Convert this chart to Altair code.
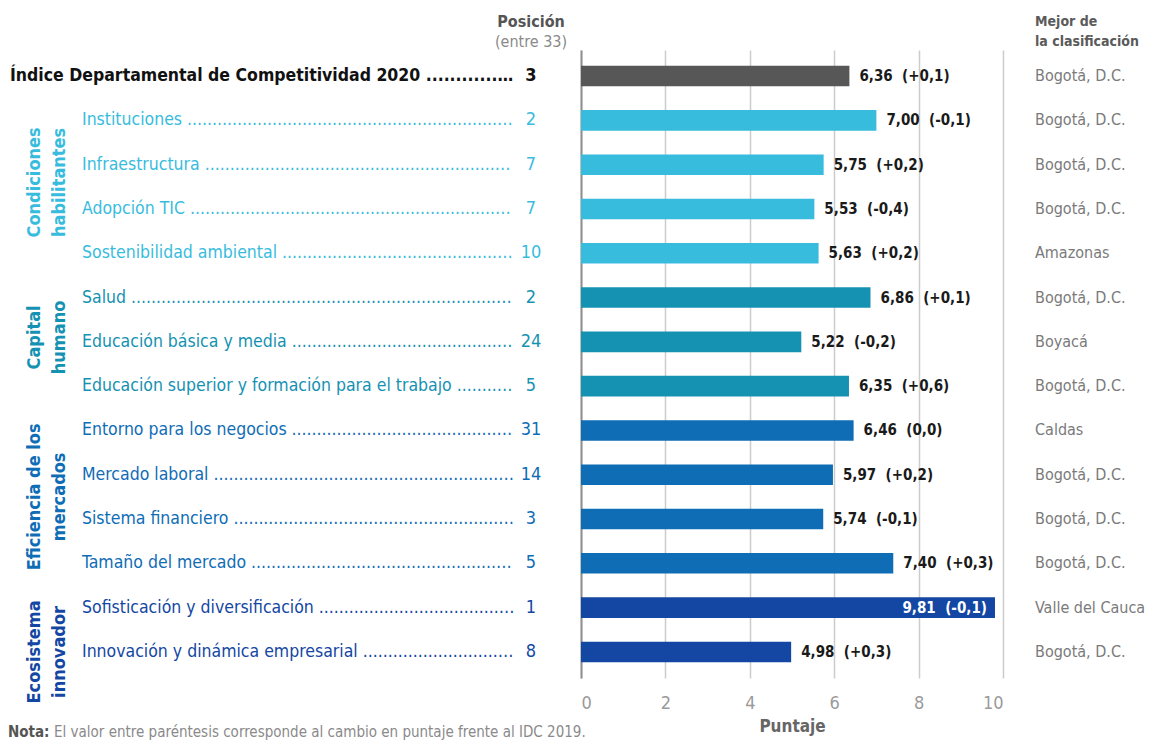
import altair as alt
import pandas as pd

FONT = "Liberation Sans Narrow, DejaVu Sans Condensed, sans-serif"

labels = [
    "Índice Departamental de Competitividad 2020",
    "Instituciones",
    "Infraestructura",
    "Adopción TIC",
    "Sostenibilidad ambiental",
    "Salud",
    "Educación básica y media",
    "Educación superior y formación para el trabajo",
    "Entorno para los negocios",
    "Mercado laboral",
    "Sistema financiero",
    "Tamaño del mercado",
    "Sofisticación y diversificación",
    "Innovación y dinámica empresarial",
]
groups = [
    "IDC",
    "Condiciones habilitantes", "Condiciones habilitantes", "Condiciones habilitantes", "Condiciones habilitantes",
    "Capital humano", "Capital humano", "Capital humano",
    "Eficiencia de los mercados", "Eficiencia de los mercados", "Eficiencia de los mercados", "Eficiencia de los mercados",
    "Ecosistema innovador", "Ecosistema innovador",
]
positions = [3, 2, 7, 7, 10, 2, 24, 5, 31, 14, 3, 5, 1, 8]
scores = [6.36, 7.00, 5.75, 5.53, 5.63, 6.86, 5.22, 6.35, 6.46, 5.97, 5.74, 7.40, 9.81, 4.98]
changes = [0.1, -0.1, 0.2, -0.4, 0.2, 0.1, -0.2, 0.6, 0.0, 0.2, -0.1, 0.3, -0.1, 0.3]
best = [
    "Bogotá, D.C.", "Bogotá, D.C.", "Bogotá, D.C.", "Bogotá, D.C.", "Amazonas",
    "Bogotá, D.C.", "Boyacá", "Bogotá, D.C.", "Caldas", "Bogotá, D.C.",
    "Bogotá, D.C.", "Bogotá, D.C.", "Valle del Cauca", "Bogotá, D.C.",
]

group_order = ["IDC", "Condiciones habilitantes", "Capital humano",
               "Eficiencia de los mercados", "Ecosistema innovador"]
group_colors = ["#575757", "#38BCDE", "#1592B2", "#0F6DB6", "#1347A3"]

group_titles = ["Condiciones habilitantes", "Capital humano",
                "Eficiencia de los mercados", "Ecosistema innovador"]
group_lines = [["Condiciones", "habilitantes"], ["Capital", "humano"],
               ["Eficiencia de los", "mercados"], ["Ecosistema", "innovador"]]
group_center_row = [2.4, 5.9, 9.5, 13.0]


def fmt_num(v):
    return f"{v:.2f}".replace(".", ",")


def fmt_change(c):
    if abs(c) < 1e-9:
        return "0,0"
    s = f"{abs(c):.1f}".replace(".", ",")
    return ("+" if c > 0 else "-") + s


df = pd.DataFrame({
    "label": labels,
    "grupo": groups,
    "pos": [str(p) for p in positions],
    "score": scores,
    "vlabel": [f"{fmt_num(s)}\u00a0\u00a0({fmt_change(c)})" for s, c in zip(scores, changes)],
    "best": best,
})

gdf = pd.DataFrame({
    "grupo": group_titles,
    "lines": group_lines,
    "mid": group_center_row,
})

H = 628
W = 422
PI = 0.536
PO = 0.357
step = H / (len(labels) - PI + 2 * PO)
first = PO + (1 - PI) / 2
ydom = [-first, -first + H / step]

color = alt.Color("grupo:N", scale=alt.Scale(domain=group_order, range=group_colors), legend=None)
yenc = alt.Y("label:N", sort=labels,
             scale=alt.Scale(paddingInner=PI, paddingOuter=PO),
             axis=alt.Axis(labels=False, ticks=False, title=None, grid=False,
                           domainColor="#8f8f8f", domainWidth=2))
ysimple = alt.Y("label:N", sort=labels)

base = alt.Chart(df)

bars = base.mark_bar().encode(
    x=alt.X("score:Q", scale=alt.Scale(domain=[0, 10], nice=False),
            axis=alt.Axis(values=[0, 2, 4, 6, 8, 10], title="Puntaje", grid=True,
                          gridColor="#cccccc", gridWidth=1.5, domain=False, ticks=False,
                          labelColor="#9a9a9a", labelFontSize=18, labelFont=FONT,
                          labelPadding=16, titleFont=FONT, titleFontSize=17,
                          titleColor="#666666", titleFontWeight="bold", titlePadding=6)),
    y=yenc,
    color=color,
)

vals_out = base.transform_filter("datum.score < 9").mark_text(
    align="left", baseline="middle", dx=10, font=FONT, fontSize=15,
    fontWeight="bold", color="#1a1a1a"
).encode(x="score:Q", y=ysimple, text="vlabel:N")

vals_in = base.transform_filter("datum.score >= 9").mark_text(
    align="right", baseline="middle", dx=-8, font=FONT, fontSize=15,
    fontWeight="bold", color="white"
).encode(x="score:Q", y=ysimple, text="vlabel:N")

lead_expr = "pad(datum.label + '  ', 300, '.')"

main_label = base.transform_filter("datum.grupo == 'IDC'").transform_calculate(
    lead=lead_expr
).mark_text(
    align="left", baseline="middle", font=FONT, fontSize=17.5, fontWeight="bold",
    color="#111111", limit=510, ellipsis=""
).encode(x=alt.value(-571), y=ysimple, text="lead:N")

sub_labels = base.transform_filter("datum.grupo != 'IDC'").transform_calculate(
    lead=lead_expr
).mark_text(
    align="left", baseline="middle", font=FONT, fontSize=17.5, limit=438, ellipsis=""
).encode(x=alt.value(-499), y=ysimple, text="lead:N", color=color)

main_pos = base.transform_filter("datum.grupo == 'IDC'").mark_text(
    align="center", baseline="middle", font=FONT, fontSize=18, fontWeight="bold",
    color="#111111"
).encode(x=alt.value(-50), y=ysimple, text="pos:N")

sub_pos = base.transform_filter("datum.grupo != 'IDC'").mark_text(
    align="center", baseline="middle", font=FONT, fontSize=18
).encode(x=alt.value(-50), y=ysimple, text="pos:N", color=color)

best_txt = base.mark_text(
    align="left", baseline="middle", font=FONT, fontSize=16, color="#7a7a7a"
).encode(x=alt.value(454), y=ysimple, text="best:N")

grp = alt.Chart(gdf).mark_text(
    angle=270, align="center", baseline="middle", font=FONT, fontSize=18,
    fontWeight="bold", lineHeight=25
).encode(
    x=alt.value(-546),
    y=alt.Y("mid:Q", scale=alt.Scale(domain=ydom, reverse=True, nice=False, zero=False), axis=None),
    text="lines",
    color=alt.Color("grupo:N", scale=alt.Scale(domain=group_order, range=group_colors), legend=None),
)


def note(txt, x, y, **kw):
    return alt.Chart(pd.DataFrame({"t": [txt]})).mark_text(font=FONT, **kw).encode(
        x=alt.value(x), y=alt.value(y), text="t:N")


h1 = note("Posición", -50, -28, align="center", baseline="middle", fontSize=16,
          fontWeight="bold", color="#555555")
h2 = note("(entre 33)", -50, -8, align="center", baseline="middle", fontSize=16,
          color="#8a8a8a")
h3 = note("Mejor de", 454, -28, align="left", baseline="middle", fontSize=14,
          fontWeight="bold", color="#5a5a5a")
h4 = note("la clasificación", 454, -8, align="left", baseline="middle", fontSize=14,
          fontWeight="bold", color="#5a5a5a")
n1 = note("Nota:", -573, 687, align="left", baseline="alphabetic", fontSize=15,
          fontWeight="bold", color="#555555")
n2 = note("El valor entre paréntesis corresponde al cambio en puntaje frente al IDC 2019.",
          -527, 687, align="left", baseline="alphabetic", fontSize=15, color="#8a8a8a")

main = alt.layer(
    bars, vals_out, vals_in, main_label, sub_labels, main_pos, sub_pos, best_txt,
)
extras = alt.layer(h1, h2, h3, h4, n1, n2)

chart = alt.layer(main, grp, extras).resolve_scale(y="independent").properties(
    width=W, height=H,
    autosize=alt.AutoSizeParams(type="none"),
    padding={"left": 573, "top": 42, "right": 144, "bottom": 63},
).configure_view(stroke=None)

chart.save("out.html", embed_options={"renderer": "svg", "actions": False})
